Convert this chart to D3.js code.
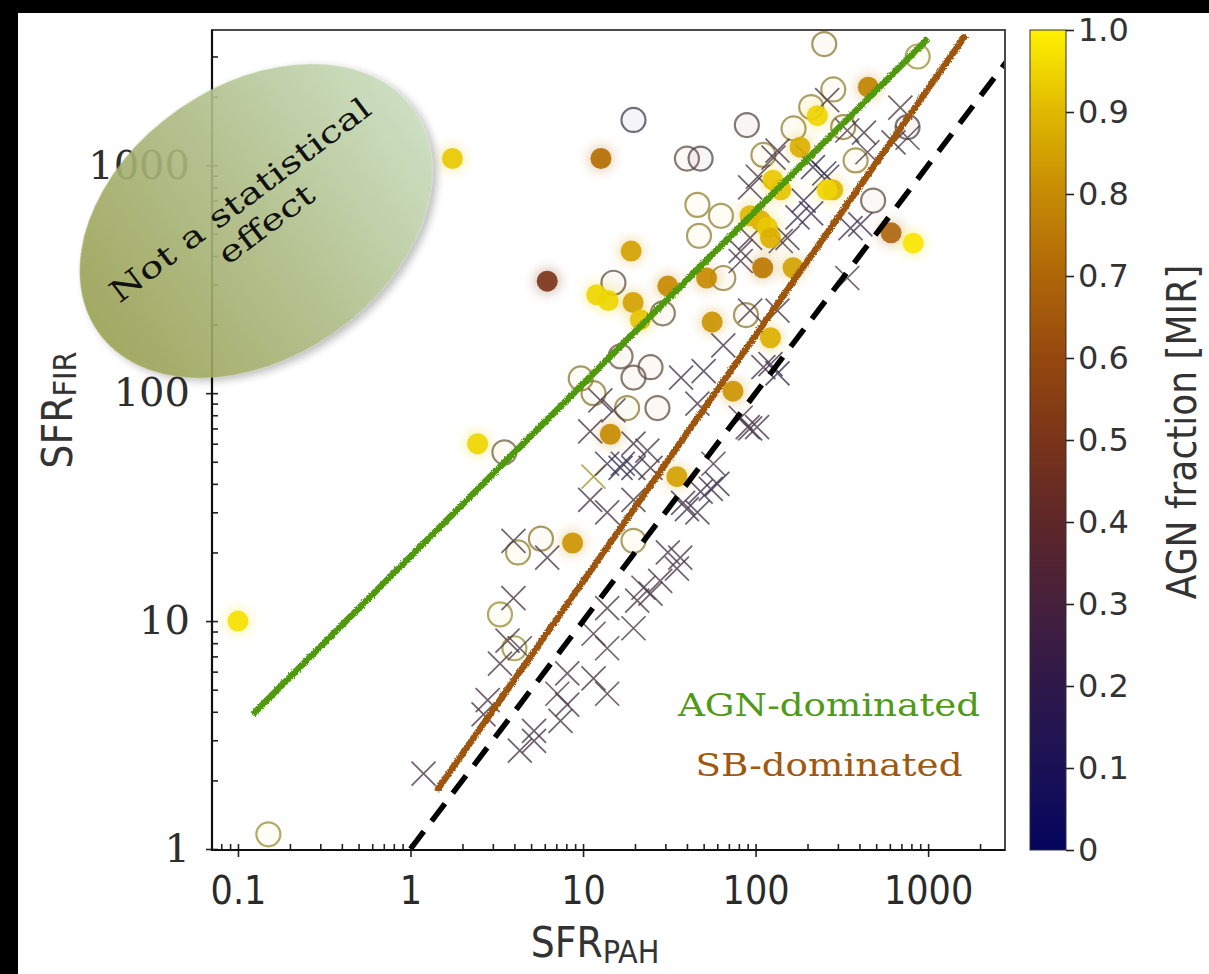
<!DOCTYPE html>
<html lang="en">
<head>
<meta charset="UTF-8">
<title>SFR FIR vs SFR PAH</title>
<script src="https://cdn.jsdelivr.net/npm/d3@7"></script>
<style>
  html, body { margin: 0; padding: 0; background: #fff; }
  svg { display: block; }
</style>
</head>
<body>
<script>
// values: [SFR_PAH, SFR_FIR, AGN fraction]
const filledPts = [
  [0.1, 10, 0.97], [1.75, 1070, 0.93], [12.7, 1070, 0.72], [6.2, 310, 0.5],
  [2.45, 60, 0.95], [12, 270, 0.95], [14, 255, 0.95], [19.5, 250, 0.85],
  [19, 420, 0.85], [31, 295, 0.8], [21.5, 210, 0.92], [52, 320, 0.8],
  [56, 205, 0.82], [110, 355, 0.75], [165, 355, 0.85], [107, 570, 0.88],
  [126, 860, 0.93], [181, 1200, 0.88], [280, 780, 0.9], [450, 2200, 0.78],
  [610, 505, 0.7], [820, 455, 0.98], [140, 780, 0.92], [260, 780, 0.95],
  [117, 535, 0.93], [122, 480, 0.88], [93, 600, 0.9], [74, 102, 0.82],
  [122, 175, 0.88], [14.4, 66, 0.8], [8.7, 22, 0.82], [35, 43, 0.85],
  [228, 1650, 0.95]
];

const openPts = [
  [19.6, 1580, 0.0], [89, 1500, 0.5], [40, 1070, 0.6], [48, 1070, 0.3],
  [250, 3400, 0.85], [870, 3000, 0.95], [46, 670, 0.9], [63, 600, 0.9],
  [47, 490, 0.9], [111, 1110, 0.9], [282, 2150, 0.9], [166, 1450, 0.9],
  [322, 1470, 0.85], [760, 1470, 0.4], [480, 700, 0.6], [15, 305, 0.6],
  [29, 224, 0.75], [16.5, 145, 0.7], [24.6, 130, 0.6], [19.6, 117, 0.6],
  [9.7, 116, 0.85], [11.5, 100, 0.85], [27, 86, 0.6], [18, 86, 0.85],
  [3.5, 55, 0.8], [88, 220, 0.85], [65, 320, 0.85], [19.6, 22.5, 0.9],
  [5.7, 23, 0.85], [4.2, 20, 0.9], [3.3, 10.7, 0.95], [4, 7.6, 0.95],
  [0.15, 1.16, 0.95], [210, 1800, 0.9], [380, 1050, 0.9]
];

const crossPts = [
  [260, 1930, 0.3], [690, 1790, 0.35], [760, 1320, 0.3], [340, 1420, 0.3],
  [215, 980, 0.2], [260, 890, 0.15], [103, 890, 0.3], [93, 480, 0.3],
  [153, 480, 0.25], [82, 380, 0.3], [355, 530, 0.2], [340, 320, 0.3],
  [200, 1090, 0.2], [250, 920, 0.1], [425, 1390, 0.3], [445, 1140, 0.3],
  [630, 1260, 0.3], [210, 615, 0.15], [134, 1160, 0.3], [140, 465, 0.3],
  [405, 550, 0.2], [127, 1080, 0.3], [93, 800, 0.3], [65, 162, 0.25],
  [37, 117, 0.25], [50, 125, 0.2], [46, 90, 0.25], [93, 230, 0.3],
  [134, 230, 0.3], [122, 134, 0.2], [134, 122, 0.1], [93, 70, 0.2],
  [82, 78, 0.25], [55, 38, 0.2], [60, 40, 0.1], [38, 33, 0.25],
  [46, 30, 0.25], [12.6, 93, 0.3], [15, 84, 0.3], [11, 68, 0.3],
  [19.6, 60, 0.3], [17, 49, 0.1], [19.6, 47, 0.1], [23.6, 56, 0.3],
  [11.5, 43, 0.95], [11, 34, 0.3], [13.8, 30, 0.3], [13.8, 49, 0.15],
  [19.6, 34, 0.3], [24.6, 47, 0.3], [31, 20, 0.3], [35, 17, 0.3],
  [22.4, 14, 0.3], [20.6, 12.3, 0.3], [13.8, 11.4, 0.3], [19.6, 9.3, 0.3],
  [13.8, 7.6, 0.3], [13.8, 4.8, 0.3], [36.6, 19, 0.3], [48, 37, 0.2],
  [40, 31, 0.2], [57, 49, 0.3], [90, 71, 0.3], [102, 71, 0.3],
  [24.6, 13.2, 0.3], [28, 15, 0.3], [16.5, 47, 0.15], [1.19, 2.14, 0.3],
  [3.95, 22.5, 0.3], [6.2, 19, 0.3], [3.95, 12.6, 0.3], [3.65, 8.2, 0.3],
  [4.3, 7.6, 0.3], [3.3, 6.5, 0.3], [2.8, 4.5, 0.3], [2.65, 3.9, 0.3],
  [5.2, 2.98, 0.3], [4.3, 2.7, 0.3], [8.1, 4.3, 0.3], [7.1, 4.8, 0.3],
  [5.2, 3.3, 0.3], [7.4, 3.65, 0.3], [11.5, 5.6, 0.3], [8.1, 5.9, 0.3],
  [11.5, 8.8, 0.3], [111, 130, 0.3], [190, 700, 0.1], [175, 590, 0.15],
  [82, 420, 0.3]
];

// relations drawn on the plot (end points)
const agnLine = [[0.122, 3.9], [1000, 3600]];
const sbLine = [[1.415, 1.8], [1650, 3720]];
const unityLine = [[1, 1], [3000, 3000]];

const xTicks = [0.1, 1, 10, 100, 1000];
const yTicks = [1, 10, 100, 1000];
const cTicks = [0, 0.1, 0.2, 0.3, 0.4, 0.5, 0.6, 0.7, 0.8, 0.9, 1.0];
const cLabels = ['0', '0.1', '0.2', '0.3', '0.4', '0.5', '0.6', '0.7', '0.8', '0.9', '1.0'];
const cmapColors = ['#05045e', '#1a1156', '#2e184a', '#45203c', '#5e2729', '#7a3419',
                    '#95480e', '#ae6608', '#c68a04', '#e0b800', '#fff200'];

const W = 1209, H = 974;
const pL = 212, pR = 1005, pT = 30, pB = 850;

const svg = d3.select('body').append('svg')
  .attr('width', W).attr('height', H);

const defs = svg.append('defs');

const cmap = d3.scaleLinear().domain(cTicks).range(cmapColors).clamp(true);

const x = d3.scaleLog().domain([0.0707, 2790]).range([pL, pR]);
const y = d3.scaleLog().domain([0.99, 3920]).range([pB, pT]);

defs.append('clipPath').attr('id', 'plotClip')
  .append('rect').attr('x', pL).attr('y', pT)
  .attr('width', pR - pL).attr('height', pB - pT);

// rough edge for the hand drawn lines
const rough = defs.append('filter').attr('id', 'rough');
rough.append('feTurbulence').attr('type', 'fractalNoise')
  .attr('baseFrequency', 0.7).attr('numOctaves', 1).attr('result', 'n');
rough.append('feDisplacementMap').attr('in', 'SourceGraphic').attr('in2', 'n')
  .attr('scale', 4).attr('xChannelSelector', 'R').attr('yChannelSelector', 'G');

defs.append('filter').attr('id', 'soft')
  .append('feGaussianBlur').attr('stdDeviation', 0.7);

const haloF = defs.append('filter').attr('id', 'halo')
  .attr('x', '-20%').attr('y', '-20%').attr('width', '140%').attr('height', '140%');
haloF.append('feGaussianBlur').attr('stdDeviation', 6);

const shadow = defs.append('filter').attr('id', 'shadow')
  .attr('x', '-20%').attr('y', '-20%').attr('width', '140%').attr('height', '150%');
shadow.append('feDropShadow').attr('dx', 2).attr('dy', 5)
  .attr('stdDeviation', 4).attr('flood-color', '#000').attr('flood-opacity', 0.3);

const blobGrad = defs.append('linearGradient').attr('id', 'blobGrad')
  .attr('x1', 0).attr('y1', 0.5).attr('x2', 1).attr('y2', 0.5);
blobGrad.append('stop').attr('offset', 0).attr('stop-color', '#99a052');
blobGrad.append('stop').attr('offset', 0.5).attr('stop-color', '#adbb84');
blobGrad.append('stop').attr('offset', 1).attr('stop-color', '#c8dcbc');

const cbarGrad = defs.append('linearGradient').attr('id', 'cbarGrad')
  .attr('x1', 0).attr('y1', 1).attr('x2', 0).attr('y2', 0);
cTicks.forEach((t, i) => {
  cbarGrad.append('stop').attr('offset', t).attr('stop-color', cmapColors[i]);
});

// plot background
svg.append('rect').attr('x', pL).attr('y', pT)
  .attr('width', pR - pL).attr('height', pB - pT).attr('fill', '#fff');

// axes: minor+major ticks inside, major ticks also poke outside
const xg = svg.append('g').attr('transform', `translate(0,${pB})`);
xg.call(d3.axisBottom(x).tickValues(x.ticks()).tickSizeInner(-6).tickSizeOuter(0).tickFormat(''));
xg.select('.domain').remove();
const xg2 = svg.append('g').attr('transform', `translate(0,${pB})`);
xg2.call(d3.axisBottom(x).tickValues(xTicks).tickSizeInner(7).tickSizeOuter(0)
  .tickPadding(19).tickFormat(d => d));
xg2.select('.domain').remove();
xg2.selectAll('text').attr('font-family', '"DejaVu Sans Condensed", "DejaVu Sans", sans-serif')
  .attr('font-size', 39).attr('fill', '#2a2a2a');

const yg = svg.append('g').attr('transform', `translate(${pL},0)`);
yg.call(d3.axisLeft(y).tickValues(y.ticks()).tickSizeInner(-6).tickSizeOuter(0).tickFormat(''));
yg.select('.domain').remove();
const yg2 = svg.append('g').attr('transform', `translate(${pL},0)`);
yg2.call(d3.axisLeft(y).tickValues(yTicks).tickSizeInner(6).tickSizeOuter(0)
  .tickPadding(16).tickFormat(d => d));
yg2.select('.domain').remove();
yg2.selectAll('text').attr('font-family', '"DejaVu Serif", serif')
  .attr('font-size', 40).attr('fill', '#2e2e2e');
svg.selectAll('.tick line').attr('stroke', '#222').attr('stroke-width', 1.6);

// markers
const plot = svg.append('g').attr('clip-path', 'url(#plotClip)');

plot.append('g').attr('filter', 'url(#halo)').attr('opacity', 0.3)
  .selectAll('circle').data(filledPts).join('circle')
  .attr('cx', d => x(d[0])).attr('cy', d => y(d[1])).attr('r', 13)
  .attr('fill', d => cmap(d[2]));

const marks = plot.append('g').attr('filter', 'url(#soft)');

// open circles read as grey-olive rings on the original
marks.append('g').selectAll('circle').data(openPts).join('circle')
  .attr('cx', d => x(d[0])).attr('cy', d => y(d[1])).attr('r', 12)
  .attr('fill', d => cmap(d[2])).attr('fill-opacity', 0.04)
  .attr('stroke', d => d3.interpolateRgb(cmap(d[2]), '#4a4a4a')(d[2] > 0.8 ? 0.55 : 0.75))
  .attr('stroke-opacity', 0.72).attr('stroke-width', 2.2);

const cs = 12;
marks.append('g').selectAll('path').data(crossPts).join('path')
  .attr('d', d => {
    const cx = x(d[0]), cy = y(d[1]);
    return `M${cx - cs},${cy - cs}L${cx + cs},${cy + cs}M${cx - cs},${cy + cs}L${cx + cs},${cy - cs}`;
  })
  .attr('fill', 'none')
  .attr('stroke', d => d3.interpolateRgb(cmap(d[2]), '#555')(0.5))
  .attr('stroke-opacity', 0.8).attr('stroke-width', 1.7);

marks.append('g').selectAll('circle').data(filledPts).join('circle')
  .attr('cx', d => x(d[0])).attr('cy', d => y(d[1])).attr('r', 10.5)
  .attr('fill', d => cmap(d[2])).attr('fill-opacity', 0.9);

// relations
const line = d3.line().x(d => x(d[0])).y(d => y(d[1]));
plot.append('path').datum(unityLine).attr('d', line)
  .attr('fill', 'none').attr('stroke', '#000').attr('stroke-width', 5.5)
  .attr('stroke-dasharray', '22,13');
plot.append('path').datum(sbLine).attr('d', line).attr('filter', 'url(#rough)')
  .attr('fill', 'none').attr('stroke', '#9e540a').attr('stroke-width', 6.5);
plot.append('path').datum(agnLine).attr('d', line).attr('filter', 'url(#rough)')
  .attr('fill', 'none').attr('stroke', '#4f990f').attr('stroke-width', 6.5);

// frame
svg.append('rect').attr('x', pL).attr('y', pT)
  .attr('width', pR - pL).attr('height', pB - pT)
  .attr('fill', 'none').attr('stroke', '#4a4a4a').attr('stroke-width', 2);
svg.append('path').attr('d', `M${pL},${pT}V${pB}H${pR}`)
  .attr('fill', 'none').attr('stroke', '#111').attr('stroke-width', 2.2);

// annotations
const serif = '"DejaVu Serif", serif';
svg.append('text').attr('x', 829).attr('y', 716).attr('text-anchor', 'middle')
  .attr('font-family', serif).attr('font-size', 32).attr('fill', '#4f9a16')
  .attr('textLength', 302).attr('lengthAdjust', 'spacingAndGlyphs')
  .text('AGN-dominated');
svg.append('text').attr('x', 829).attr('y', 776).attr('text-anchor', 'middle')
  .attr('font-family', serif).attr('font-size', 32).attr('fill', '#a0580e')
  .attr('textLength', 267).attr('lengthAdjust', 'spacingAndGlyphs')
  .text('SB-dominated');

// axis titles
const sans = '"DejaVu Sans Condensed", "DejaVu Sans", sans-serif';
const xt = svg.append('text').attr('x', 595).attr('y', 957).attr('text-anchor', 'middle')
  .attr('font-family', sans).attr('font-size', 42).attr('fill', '#333');
xt.append('tspan').text('SFR');
xt.append('tspan').attr('dy', 6).attr('font-size', 32).text('PAH');

const yt = svg.append('text').attr('transform', 'translate(72,410) rotate(-90)')
  .attr('text-anchor', 'middle')
  .attr('font-family', sans).attr('font-size', 42).attr('fill', '#333');
yt.append('tspan').text('SFR');
yt.append('tspan').attr('dy', 4).attr('font-size', 32).text('FIR');

// colour bar
const cx0 = 1030, cw = 36;
const cy = d3.scaleLinear().domain([0, 1]).range([pB, pT]);
svg.append('rect').attr('x', cx0).attr('y', pT).attr('width', cw).attr('height', pB - pT)
  .attr('fill', 'url(#cbarGrad)').attr('stroke', '#333').attr('stroke-width', 1);
const cg = svg.append('g').attr('transform', `translate(${cx0 + cw},0)`);
cg.call(d3.axisRight(cy).tickValues(cTicks).tickSizeInner(8).tickSizeOuter(0)
  .tickPadding(4).tickFormat((d, i) => cLabels[i]));
cg.select('.domain').remove();
cg.selectAll('line').attr('stroke', '#222').attr('stroke-width', 1.6);
cg.selectAll('text').attr('font-family', '"DejaVu Sans", sans-serif')
  .attr('font-size', 32).attr('fill', '#333');

svg.append('text').attr('transform', 'translate(1196,432) rotate(-90)')
  .attr('text-anchor', 'middle')
  .attr('font-family', sans).attr('font-size', 40).attr('fill', '#333')
  .text('AGN fraction [MIR]');

// "Not a statistical effect" blob
const blob = svg.append('g').attr('transform', 'translate(256,221) rotate(-35)');
blob.append('ellipse').attr('rx', 193).attr('ry', 136)
  .attr('fill', 'url(#blobGrad)').attr('opacity', 0.9).attr('filter', 'url(#shadow)');
svg.append('text').attr('transform', 'translate(240,200) rotate(-37)')
  .attr('text-anchor', 'middle').attr('dominant-baseline', 'central')
  .attr('font-family', serif).attr('font-size', 30).attr('fill', '#111')
  .attr('textLength', 318).attr('lengthAdjust', 'spacingAndGlyphs')
  .text('Not a statistical');
svg.append('text').attr('transform', 'translate(266,224) rotate(-37)')
  .attr('text-anchor', 'middle').attr('dominant-baseline', 'central')
  .attr('font-family', serif).attr('font-size', 30).attr('fill', '#111')
  .attr('textLength', 112).attr('lengthAdjust', 'spacingAndGlyphs')
  .text('effect');

// black border of the slide
svg.append('rect').attr('x', 0).attr('y', 0).attr('width', W).attr('height', 13).attr('fill', '#000');
svg.append('rect').attr('x', 0).attr('y', 0).attr('width', 18).attr('height', H).attr('fill', '#000');
</script>
</body>
</html>
